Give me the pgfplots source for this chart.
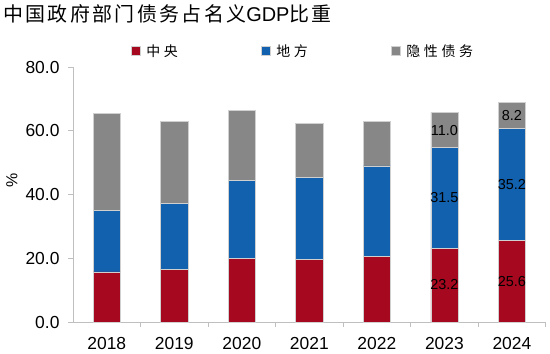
\documentclass[border=0pt]{standalone}
\usepackage{fontspec}
\usepackage{pgfplots}
\pgfplotsset{compat=1.18}
\setmainfont{Liberation Sans}
\newfontfamily\cjk{Noto Sans CJK SC}
\newfontfamily\cjkls[LetterSpace=12]{Noto Sans CJK SC}
\newfontfamily\cjkleg[LetterSpace=26]{Noto Sans CJK SC}
\definecolor{cred}{HTML}{A6091F}
\definecolor{cblue}{HTML}{1261AF}
\definecolor{cgray}{HTML}{878787}
\definecolor{axgray}{HTML}{BFBFBF}
\definecolor{baredge}{HTML}{D0D0D0}
\begin{document}
\begin{tikzpicture}[lab/.style={font=\fontsize{14.5}{16}\selectfont, inner sep=0pt}]
\path[use as bounding box] (0bp,0bp) rectangle (550bp,354bp);
\node[anchor=west,inner sep=0pt,font=\fontsize{20}{22}\selectfont] at (3bp,340bp) {{\cjkls 中国政府部门债务占名义}GDP{\cjkls 比重}};
\begin{axis}[
  at={(73bp,32bp)}, anchor=south west,
  scale only axis, width=472.7bp, height=255bp,
  ybar stacked, bar width=27.3bp,
  xmin=-0.5, xmax=6.5, ymin=0, ymax=80,
  axis x line*=bottom, axis y line*=left,
  axis line style={axgray, line width=0.8bp, -},
  xtick={0,...,6}, xticklabels={2018,2019,2020,2021,2022,2023,2024},
  major x tick style={draw=none},
  minor xtick={0.5,1.5,...,6.5},
  minor tick length=5bp,
  minor x tick style={axgray, line width=0.8bp},
  ytick={0,20,...,80},
  major tick length=5bp,
  tick align=outside,
  y tick style={axgray, line width=0.8bp},
  yticklabel={\pgfmathprintnumber[fixed,fixed zerofill,precision=1]{\tick}},
  tick label style={font=\fontsize{17.5}{19}\selectfont},
  /pgf/number format/assume math mode=true,
  xticklabel style={yshift=-7bp},
  yticklabel style={xshift=-5bp},
  ylabel={\%}, ylabel style={font=\fontsize{16}{18}\selectfont, at={(rel axis cs:0,0.557)}, anchor=center, yshift=61bp},
  legend columns=3,
  legend style={at={(rel axis cs:0.122,1.062)}, anchor=west, draw=none, fill=none,
    font=\fontsize{14}{16}\selectfont, inner sep=0pt,
    /tikz/every even column/.append style={column sep=81bp},
    /tikz/every odd column/.append style={column sep=4bp}},
  legend image code/.code={\fill[#1] (0bp,-4.5bp) rectangle (9bp,4.5bp);},
  clip=false,
]
\addplot[fill=cred, draw=baredge, line width=0.5bp] coordinates {(0,15.7) (1,16.4) (2,20.0) (3,19.6) (4,20.7) (5,23.2) (6,25.6)};
\addplot[fill=cblue, draw=baredge, line width=0.5bp] coordinates {(0,19.3) (1,20.9) (2,24.4) (3,25.7) (4,28.3) (5,31.5) (6,35.2)};
\addplot[fill=cgray, draw=baredge, line width=0.5bp] coordinates {(0,30.5) (1,25.6) (2,22.1) (3,17.0) (4,13.9) (5,11.0) (6,8.2)};
\legend{{\cjkleg 中央},{\cjkleg 地方},{\cjkleg 隐性债务}}
\coordinate (a1) at (axis cs:5,11.6);
\coordinate (a2) at (axis cs:5,38.95);
\coordinate (a3) at (axis cs:5,59.95);
\coordinate (b1) at (axis cs:6,12.8);
\coordinate (b2) at (axis cs:6,43.2);
\coordinate (b3) at (axis cs:6,64.7);
\end{axis}
\node[lab] at (a1) {23.2};
\node[lab] at (a2) {31.5};
\node[lab] at (a3) {11.0};
\node[lab] at (b1) {25.6};
\node[lab] at (b2) {35.2};
\node[lab] at (b3) {8.2};
\end{tikzpicture}
\end{document}
